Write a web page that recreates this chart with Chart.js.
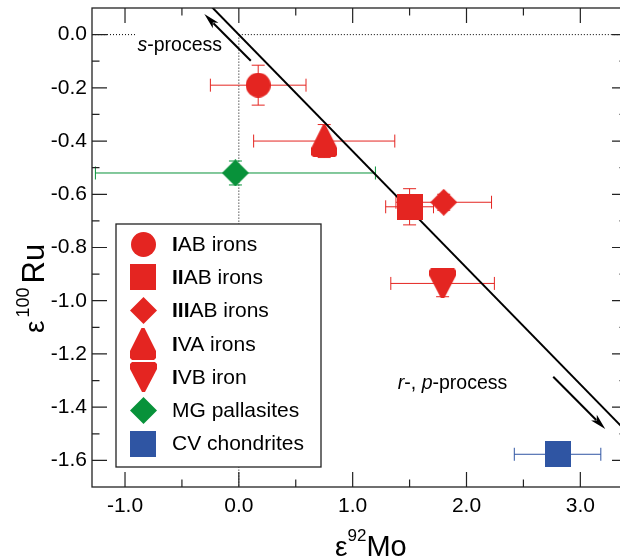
<!DOCTYPE html>
<html>
<head>
<meta charset="utf-8">
<script src="https://cdn.jsdelivr.net/npm/chart.js@4.4.1/dist/chart.umd.min.js"></script>
<style>
  html, body { margin: 0; padding: 0; background: #fff; }
  #wrap { width: 620px; height: 558px; overflow: hidden; }
  canvas { display: block; margin-top: -5px; }
</style>
</head>
<body>
<div id="wrap"><canvas id="isoChart" width="640" height="563"></canvas></div>
<script>
// meteorite groups
const seriesNames = ["IAB irons", "IIAB irons", "IIIAB irons", "IVA irons", "IVB iron", "MG pallasites", "CV chondrites"];
const boldParts = ["I", "II", "III", "I", "I", "", ""];
const seriesX = [0.17, 1.50, 1.80, 0.75, 1.79, -0.03, 2.80];
const seriesY = [-0.19, -0.647, -0.63, -0.40, -0.935, -0.52, -1.577];
const errX = [0.42, 0.21, 0.42, 0.62, 0.455, 1.23, 0.38];
const errY = [0.075, 0.068, 0.03, 0.062, 0.05, 0.045, 0.03];
const shapes = ["circle", "square", "diamond", "triUp", "triDown", "diamond", "square"];
const colors = ["#e42521", "#e42521", "#e42521", "#e42521", "#e42521", "#08923a", "#2f55a3"];

// mixing line and arrows
const lineX = [-0.35, 3.5];
const lineY = [0.153, -1.533];
const arrowUpX = [0.105, -0.303];
const arrowUpY = [-0.098, 0.077];
const arrowDownX = [2.762, 3.219];
const arrowDownY = [-1.286, -1.482];

// axes
const xMin = -1.29, xMax = 3.41;
const yMin = -1.7, yMax = 0.1;
const xTicks = [-1.0, -0.5, 0.0, 0.5, 1.0, 1.5, 2.0, 2.5, 3.0];
const xTickLabels = ["-1.0", "", "0.0", "", "1.0", "", "2.0", "", "3.0"];
const yTicks = [-1.6, -1.5, -1.4, -1.3, -1.2, -1.1, -1.0, -0.9, -0.8, -0.7, -0.6, -0.5, -0.4, -0.3, -0.2, -0.1, 0.0];
const yTickLabels = ["-1.6", "", "-1.4", "", "-1.2", "", "-1.0", "", "-0.8", "", "-0.6", "", "-0.4", "", "-0.2", "", "0.0"];

const FONT = "'Liberation Sans', Arial, Helvetica, sans-serif";
const SHIFT = 5; // canvas is pulled up by this much

function makeMarker(shape, color) {
  const dims = { circle: [25, 25], square: [26, 26], diamond: [27, 27], triUp: [26, 32], triDown: [27, 30] }[shape];
  const w = dims[0], h = dims[1];
  const c = document.createElement("canvas");
  c.width = w; c.height = h;
  const g = c.getContext("2d");
  g.fillStyle = color;
  g.beginPath();
  if (shape === "circle") {
    g.arc(w / 2, h / 2, w / 2, 0, Math.PI * 2);
  } else if (shape === "square") {
    g.rect(0, 0, w, h);
  } else if (shape === "diamond") {
    g.moveTo(w / 2, 0); g.lineTo(w, h / 2); g.lineTo(w / 2, h); g.lineTo(0, h / 2);
  } else if (shape === "triUp") {
    g.moveTo(w / 2 - 1.5, 0); g.lineTo(w / 2 + 1.5, 0); g.lineTo(w, h - 9); g.lineTo(w, h - 2);
    g.lineTo(w - 2, h); g.lineTo(2, h); g.lineTo(0, h - 2); g.lineTo(0, h - 9);
  } else {
    g.moveTo(2, 0); g.lineTo(w - 2, 0); g.lineTo(w, 2); g.lineTo(w, 7);
    g.lineTo(w / 2 + 1.5, h); g.lineTo(w / 2 - 1.5, h); g.lineTo(0, 7); g.lineTo(0, 2);
  }
  g.closePath();
  g.fill();
  return c;
}

const markers = shapes.map((s, i) => makeMarker(s, colors[i]));

const datasets = seriesNames.map((name, i) => ({
  label: name,
  data: [{ x: seriesX[i], y: seriesY[i] }],
  pointStyle: markers[i],
  pointRadius: 12,
  pointHoverRadius: 12,
  order: 1,
}));
datasets.push({
  label: "mixing line",
  data: lineX.map((x, i) => ({ x: x, y: lineY[i] })),
  showLine: true,
  borderColor: "#000",
  borderWidth: 2,
  pointRadius: 0,
  order: 5,
});

function px(chart, x, y) {
  return [chart.scales.x.getPixelForValue(x), chart.scales.y.getPixelForValue(y)];
}

function drawArrow(ctx, chart, xs, ys) {
  const a = px(chart, xs[0], ys[0]);
  const b = px(chart, xs[1], ys[1]);
  const ang = Math.atan2(b[1] - a[1], b[0] - a[0]);
  const len = 16, half = 4;
  ctx.strokeStyle = "#000";
  ctx.lineWidth = 2;
  ctx.beginPath();
  ctx.moveTo(a[0], a[1]);
  ctx.lineTo(b[0] - Math.cos(ang) * len * 0.8, b[1] - Math.sin(ang) * len * 0.8);
  ctx.stroke();
  ctx.fillStyle = "#000";
  ctx.beginPath();
  ctx.moveTo(b[0], b[1]);
  ctx.lineTo(b[0] - Math.cos(ang) * len - Math.sin(ang) * half, b[1] - Math.sin(ang) * len + Math.cos(ang) * half);
  ctx.lineTo(b[0] - Math.cos(ang) * len * 0.75, b[1] - Math.sin(ang) * len * 0.75);
  ctx.lineTo(b[0] - Math.cos(ang) * len + Math.sin(ang) * half, b[1] - Math.sin(ang) * len - Math.cos(ang) * half);
  ctx.closePath();
  ctx.fill();
}

function drawRich(ctx, parts, x, y) {
  // parts: [text, font, dy, gapAfter]
  let cx = x;
  parts.forEach(p => {
    ctx.font = p[1];
    ctx.fillText(p[0], cx, y + (p[2] || 0));
    cx += ctx.measureText(p[0]).width + (p[3] || 0);
  });
}

const backPlugin = {
  id: "backLayer",
  beforeDatasetsDraw(chart) {
    const ctx = chart.ctx;
    const area = chart.chartArea;
    ctx.save();
    // dotted zero lines
    ctx.strokeStyle = "#000";
    ctx.lineWidth = 1;
    ctx.setLineDash([1, 2]);
    let p1 = px(chart, -0.9, 0);
    ctx.beginPath();
    ctx.moveTo(area.left, p1[1]); ctx.lineTo(p1[0], p1[1]);
    const p0 = px(chart, 0, 0);
    ctx.moveTo(p0[0], p0[1]); ctx.lineTo(area.right, p0[1]);
    ctx.moveTo(p0[0], p0[1]); ctx.lineTo(p0[0], area.bottom);
    ctx.stroke();
    ctx.setLineDash([]);

    // error bars
    ctx.lineWidth = 1;
    const cap = 6.5;
    seriesX.forEach((x, i) => {
      ctx.strokeStyle = colors[i];
      const l = px(chart, x - errX[i], seriesY[i]);
      const r = px(chart, x + errX[i], seriesY[i]);
      const t = px(chart, x, seriesY[i] + errY[i]);
      const b = px(chart, x, seriesY[i] - errY[i]);
      ctx.beginPath();
      ctx.moveTo(l[0], l[1]); ctx.lineTo(r[0], r[1]);
      ctx.moveTo(l[0], l[1] - cap); ctx.lineTo(l[0], l[1] + cap);
      ctx.moveTo(r[0], r[1] - cap); ctx.lineTo(r[0], r[1] + cap);
      ctx.moveTo(t[0], t[1]); ctx.lineTo(b[0], b[1]);
      ctx.moveTo(t[0] - cap, t[1]); ctx.lineTo(t[0] + cap, t[1]);
      ctx.moveTo(b[0] - cap, b[1]); ctx.lineTo(b[0] + cap, b[1]);
      ctx.stroke();
    });
    ctx.restore();
  },
  afterDatasetsDraw(chart) {
    const ctx = chart.ctx;
    const area = chart.chartArea;
    const xs = chart.scales.x, ys = chart.scales.y;
    ctx.save();
    drawArrow(ctx, chart, arrowUpX, arrowUpY);
    drawArrow(ctx, chart, arrowDownX, arrowDownY);

    // frame
    ctx.strokeStyle = "#222";
    ctx.lineWidth = 1.3;
    ctx.strokeRect(area.left, area.top, area.right - area.left, area.bottom - area.top);

    // inward ticks on all sides
    ctx.lineWidth = 1.2;
    ctx.beginPath();
    xTicks.forEach((v, i) => {
      const p = xs.getPixelForValue(v);
      const L = xTickLabels[i] ? 15 : 7.5;
      ctx.moveTo(p, area.bottom); ctx.lineTo(p, area.bottom - L);
      ctx.moveTo(p, area.top); ctx.lineTo(p, area.top + L);
    });
    yTicks.forEach((v, i) => {
      const p = ys.getPixelForValue(v);
      const L = yTickLabels[i] ? 15 : 7.5;
      ctx.moveTo(area.left, p); ctx.lineTo(area.left + L, p);
      ctx.moveTo(area.right, p); ctx.lineTo(area.right - L, p);
    });
    ctx.stroke();

    // process labels
    ctx.fillStyle = "#000";
    ctx.textBaseline = "alphabetic";
    const ital = "italic 19.5px " + FONT, reg = "19.5px " + FONT;
    let s = px(chart, -0.89, -0.06);
    drawRich(ctx, [["s", ital], ["-process", reg]], s[0], s[1]);
    s = px(chart, 1.397, -1.33);
    drawRich(ctx, [["r", ital], ["-, ", reg], ["p", ital], ["-process", reg]], s[0], s[1]);

    // legend box
    const lg = { left: 116, top: 224 + SHIFT, w: 205, h: 243, row0: 244 + SHIFT, gap: 33.25, mx: 143, tx: 172 };
    ctx.fillStyle = "#fff";
    ctx.fillRect(lg.left, lg.top, lg.w, lg.h);
    ctx.strokeStyle = "#222";
    ctx.lineWidth = 1.3;
    ctx.strokeRect(lg.left, lg.top, lg.w, lg.h);
    ctx.textBaseline = "middle";
    seriesNames.forEach((name, i) => {
      const y = lg.row0 + i * lg.gap;
      const m = markers[i];
      ctx.drawImage(m, Math.round(lg.mx - m.width / 2), Math.round(y - m.height / 2));
      ctx.fillStyle = "#000";
      const rest = name.slice(boldParts[i].length);
      drawRich(ctx, [[boldParts[i], "bold 21px " + FONT], [rest, "21px " + FONT]], lg.tx, y + 1);
    });

    // axis titles
    ctx.textBaseline = "alphabetic";
    ctx.fillStyle = "#000";
    drawRich(ctx, [["ε", "28px " + FONT], ["92", "17px " + FONT, -15], ["Mo", "29px " + FONT]], 335, 555.5 + SHIFT);
    ctx.translate(43.5, 333 + SHIFT);
    ctx.rotate(-Math.PI / 2);
    drawRich(ctx, [["ε", "28px " + FONT, 0, 3], ["100", "18px " + FONT, -14.5, 4], ["Ru", "31px " + FONT]], 0, 0);
    ctx.restore();
  }
};

new Chart(document.getElementById("isoChart"), {
  type: "scatter",
  data: { datasets: datasets },
  options: {
    responsive: false,
    animation: false,
    devicePixelRatio: 1,
    layout: { padding: { left: 0, top: 3, right: 10, bottom: 0 } },
    plugins: { legend: { display: false }, tooltip: { enabled: false } },
    scales: {
      x: {
        type: "linear",
        min: xMin,
        max: xMax,
        grid: { display: false, drawTicks: false },
        border: { display: false },
        afterBuildTicks: (s) => { s.ticks = xTicks.map(v => ({ value: v })); },
        afterFit: (s) => { s.height = 71; s.paddingLeft = 0; s.paddingRight = 0; },
        ticks: {
          autoSkip: false,
          maxRotation: 0,
          padding: 7,
          color: "#000",
          font: { family: FONT, size: 21 },
          callback: (v, i) => xTickLabels[i],
        },
      },
      y: {
        type: "linear",
        min: yMin,
        max: yMax,
        grid: { display: false, drawTicks: false },
        border: { display: false },
        afterBuildTicks: (s) => { s.ticks = yTicks.map(v => ({ value: v })); },
        afterFit: (s) => { s.width = 92; s.paddingTop = 0; s.paddingBottom = 0; },
        ticks: {
          autoSkip: false,
          padding: 5,
          color: "#000",
          font: { family: FONT, size: 21, lineHeight: 0.7 },
          callback: (v, i) => yTickLabels[i],
        },
      },
    },
  },
  plugins: [backPlugin],
});
</script>
</body>
</html>
